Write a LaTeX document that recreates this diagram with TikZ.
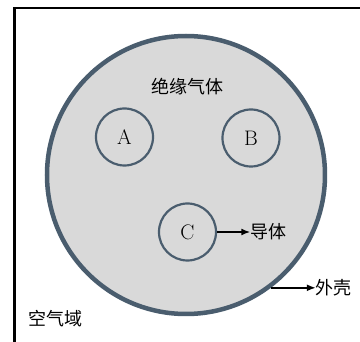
\documentclass[tikz,border=0pt]{standalone}
\usepackage{fontspec}
\newfontfamily\cjk{Noto Sans CJK SC}
\usepackage{tikz}
\usetikzlibrary{arrows.meta,positioning}
\definecolor{shellblue}{HTML}{4A5D6E}
\definecolor{gasgray}{HTML}{D9D9D9}
\tikzset{
	shell/.style = {draw=shellblue, fill=gasgray, circle, line width=4.5pt, minimum size=278pt, inner sep=0pt},
	conductor/.style = {draw=shellblue, circle, line width=2.2pt, minimum size=57pt, inner sep=0pt, font=\fontsize{21}{21}\selectfont},
	cntext/.style = {font=\cjk\fontsize{18}{18}\selectfont, inner sep=0pt},
	airbox/.style = {draw, line width=2.5pt},
	pointer/.style = {->, line width=1.6pt}
}

\begin{document}
\begin{tikzpicture}[x=1pt,y=-1pt,>={Latex[length=9pt,width=7pt]}]
\useasboundingbox (0,0) rectangle (360,342);
\draw [airbox] (365,8) -- (14.5,8) -- (14.5,350);
\node [shell] (shell) at (186,175) {};
\node [cntext] (gas) at (188,87) {绝缘气体};
\node [conductor] (A) at (124.5,137) {A};
\node [conductor] (B) at (251,138) {B};
\node [conductor] (C) at (187.5,232) {C};
\node [cntext, right of=C, node distance=81pt] (cond) {导体};
\node [cntext] (case) at (334,288) {外壳};
\node [cntext] (air) at (56,319) {空气域};

\draw [pointer] (C) -- (cond);
\draw [pointer] (shell.-53) -- (shell.-53 -| case.west);
\end{tikzpicture}
\end{document}
